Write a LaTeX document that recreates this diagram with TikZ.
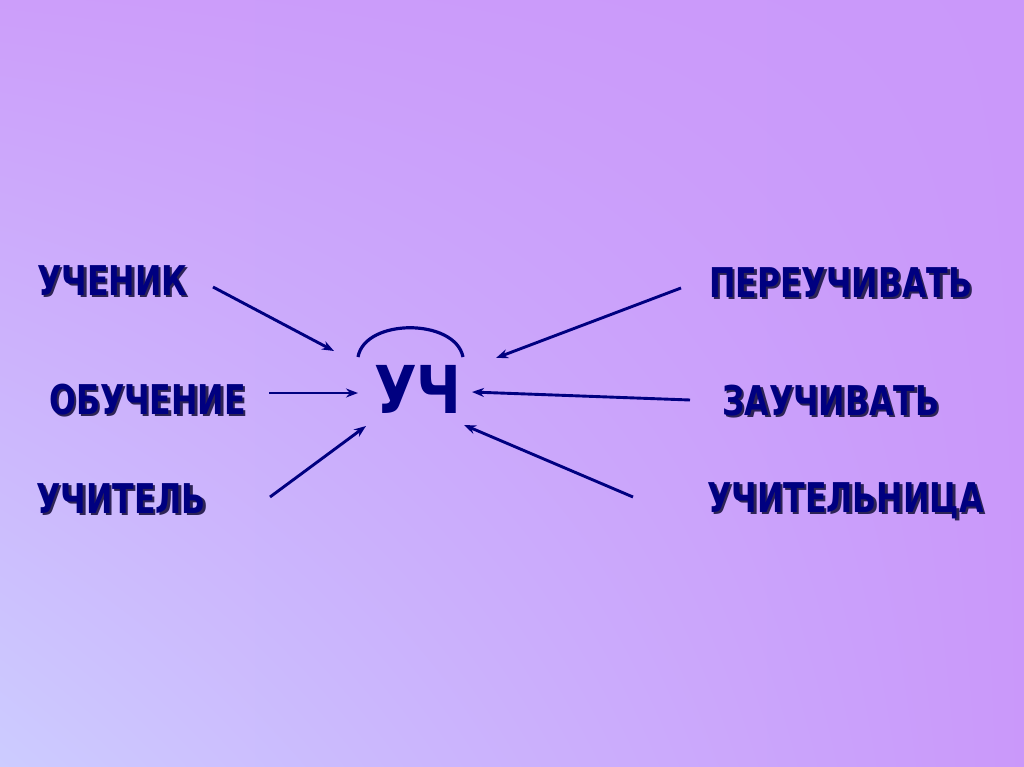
\documentclass[tikz,border=0pt]{standalone}
\usepackage{fontspec}
\setmainfont{DejaVu Sans}
\newfontfamily\wordfont[FakeStretch=0.77]{DejaVu Sans}
\newfontfamily\rootfont[FakeStretch=0.84]{DejaVu Sans}
\usetikzlibrary{arrows.meta,positioning,shadings}
\definecolor{navy}{RGB}{0,0,128}
\definecolor{shadowc}{RGB}{45,35,85}
\definecolor{bgblue}{RGB}{204,204,255}
\definecolor{bgviolet}{RGB}{202,152,250}
\definecolor{bgmid}{RGB}{204,158,250}
% Text mit Schatten
\newcommand{\shadowed}[1]{\makebox[0pt][l]{\hspace{2.5pt}\raisebox{-2.5pt}{\color{shadowc}#1}}#1}

\begin{document}
\begin{tikzpicture}[x=1pt, y=-1pt, >=Stealth,
		word/.style={font=\wordfont\bfseries\fontsize{41}{41}\selectfont, text=navy, inner sep=0pt, anchor=base west},
		link/.style={-{Stealth[length=12pt,width=9pt]}, navy, line width=2.9pt}]
			% Hintergrund
			\shade[lower left=bgblue, upper left=bgmid, upper right=bgviolet, lower right=bgviolet]
				(0,0) rectangle (1024,767);
			\useasboundingbox (0,0) rectangle (1024,767);

			% --- Wortstamm ---
			\node[inner sep=0pt, anchor=base west, text=navy, font=\rootfont\bfseries\fontsize{66}{66}\selectfont] (uc) at (374,413) {УЧ};
			\draw[navy, line width=3.2pt] (358,357) .. controls (365,318) and (455,318) .. (463,357);

			% --- Woerter: Name / x / Grundlinie / Text ---
			\foreach \n/\x/\y/\t in {ucenik/37/295/УЧЕНИК, obucenie/49/414/ОБУЧЕНИЕ, ucitel/36/513/УЧИТЕЛЬ,
					pereuc/709/297/ПЕРЕУЧИВАТЬ, zauc/722/415/ЗАУЧИВАТЬ, ucitelnica/707/512/УЧИТЕЛЬНИЦА} {
					\node[word] (\n) at (\x,\y) {\shadowed{\t}};
				}

			% --- Pfeile ---
			\coordinate (s1) at (213,287); \coordinate (e1) at (334,351);
			\coordinate (s2) at (269,393); \coordinate (e2) at (358,393);
			\coordinate (s3) at (270,497); \coordinate (e3) at (366,426);
			\coordinate (s4) at (681,288); \coordinate (e4) at (496,358);
			\coordinate (s5) at (690,400); \coordinate (e5) at (472,392);
			\coordinate (s6) at (633,497); \coordinate (e6) at (464,425);
			\foreach \i in {1,...,6} {
					\draw[link] (s\i) -- (e\i);
				}

		\end{tikzpicture}
\end{document}
